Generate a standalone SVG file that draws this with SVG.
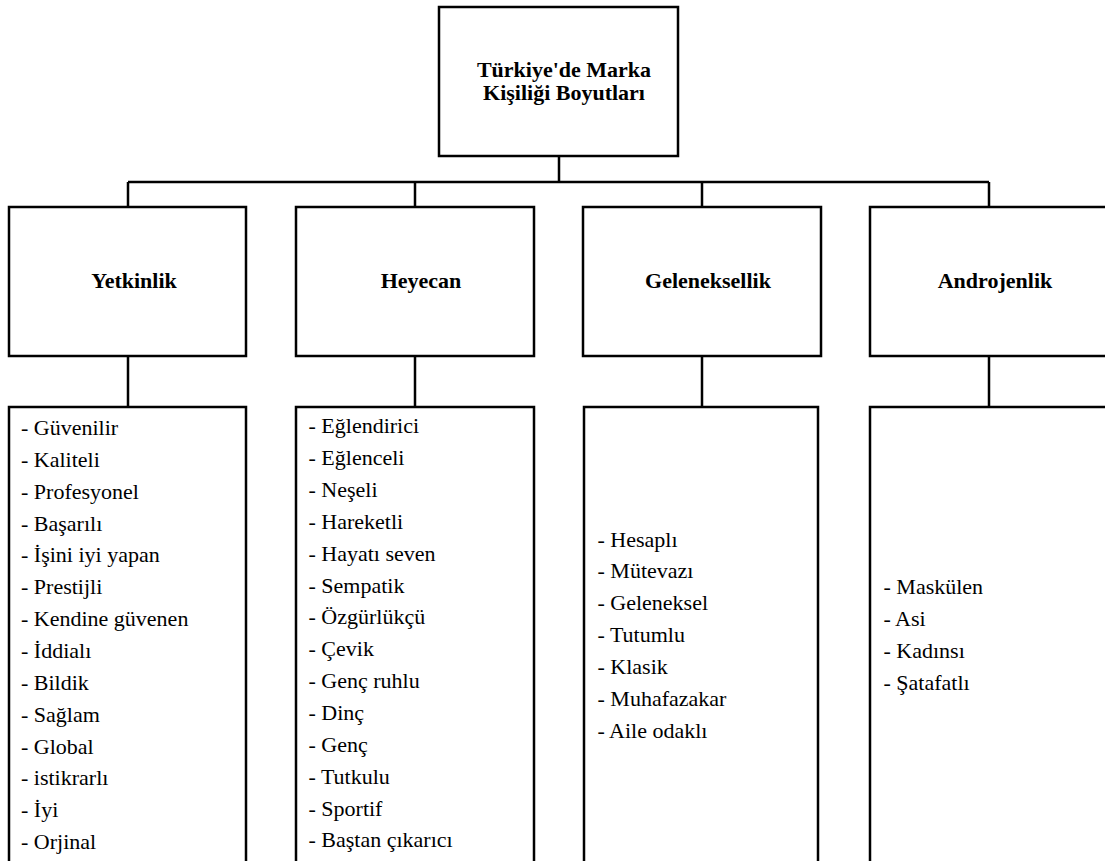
<svg xmlns="http://www.w3.org/2000/svg" width="1105" height="861" viewBox="0 0 1105 861">
<style>
.box{fill:#fff;stroke:#000;stroke-width:2.5}
.ln{fill:none;stroke:#000;stroke-width:2.5}
text{font-family:'Liberation Serif','Times New Roman',serif;fill:#000}
.hd{font-weight:bold;font-size:22px;text-anchor:middle}
.it{font-size:22px}
</style>
<rect width="1105" height="861" fill="#fff"/>
<g id="connectors">
<path class="ln" d="M559 156V182M128 182H989M128 182V207M415 182V207M702 182V207M989 182V207"/>
<path class="ln" d="M128 356V407M415 356V407M702 356V407M989 356V407"/>
</g>
<g id="root">
<rect class="box" x="439" y="7" width="239" height="149"/>
<text class="hd" x="564" y="77">Türkiye'de Marka</text>
<text class="hd" x="564" y="100">Kişiliği Boyutları</text>
</g>
<g id="yetkinlik">
<rect class="box" x="9" y="207" width="237" height="149"/>
<text class="hd" x="134" y="288">Yetkinlik</text>
</g>
<g id="heyecan">
<rect class="box" x="296" y="207" width="238" height="149"/>
<text class="hd" x="421" y="288">Heyecan</text>
</g>
<g id="geleneksellik">
<rect class="box" x="583" y="207" width="238" height="149"/>
<text class="hd" x="708" y="288">Geleneksellik</text>
</g>
<g id="androjenlik">
<rect class="box" x="870" y="207" width="240" height="149"/>
<text class="hd" x="995" y="288">Androjenlik</text>
</g>
<g id="yetkinlik-list">
<rect class="box" x="9" y="407" width="237" height="470"/>
<text class="it" x="21" y="435">- Güvenilir</text>
<text class="it" x="21" y="466.9">- Kaliteli</text>
<text class="it" x="21" y="498.7">- Profesyonel</text>
<text class="it" x="21" y="530.6">- Başarılı</text>
<text class="it" x="21" y="562.4">- İşini iyi yapan</text>
<text class="it" x="21" y="594.3">- Prestijli</text>
<text class="it" x="21" y="626.1">- Kendine güvenen</text>
<text class="it" x="21" y="658">- İddialı</text>
<text class="it" x="21" y="689.8">- Bildik</text>
<text class="it" x="21" y="721.7">- Sağlam</text>
<text class="it" x="21" y="753.5">- Global</text>
<text class="it" x="21" y="785.4">- istikrarlı</text>
<text class="it" x="21" y="817.2">- İyi</text>
<text class="it" x="21" y="849.1">- Orjinal</text>
</g>
<g id="heyecan-list">
<rect class="box" x="296" y="407" width="238" height="470"/>
<text class="it" x="308.5" y="433.3">- Eğlendirici</text>
<text class="it" x="308.5" y="465.2">- Eğlenceli</text>
<text class="it" x="308.5" y="497">- Neşeli</text>
<text class="it" x="308.5" y="528.9">- Hareketli</text>
<text class="it" x="308.5" y="560.7">- Hayatı seven</text>
<text class="it" x="308.5" y="592.6">- Sempatik</text>
<text class="it" x="308.5" y="624.4">- Özgürlükçü</text>
<text class="it" x="308.5" y="656.3">- Çevik</text>
<text class="it" x="308.5" y="688.1">- Genç ruhlu</text>
<text class="it" x="308.5" y="720">- Dinç</text>
<text class="it" x="308.5" y="751.8">- Genç</text>
<text class="it" x="308.5" y="783.7">- Tutkulu</text>
<text class="it" x="308.5" y="815.5">- Sportif</text>
<text class="it" x="308.5" y="847.4">- Baştan çıkarıcı</text>
</g>
<g id="geleneksellik-list">
<rect class="box" x="584" y="407" width="234" height="470"/>
<text class="it" x="597.5" y="546.5">- Hesaplı</text>
<text class="it" x="597.5" y="578.4">- Mütevazı</text>
<text class="it" x="597.5" y="610.2">- Geleneksel</text>
<text class="it" x="597.5" y="642.1">- Tutumlu</text>
<text class="it" x="597.5" y="673.9">- Klasik</text>
<text class="it" x="597.5" y="705.8">- Muhafazakar</text>
<text class="it" x="597.5" y="737.6">- Aile odaklı</text>
</g>
<g id="androjenlik-list">
<rect class="box" x="870" y="407" width="240" height="470"/>
<text class="it" x="883.5" y="594.3">- Maskülen</text>
<text class="it" x="883.5" y="626.1">- Asi</text>
<text class="it" x="883.5" y="658">- Kadınsı</text>
<text class="it" x="883.5" y="689.8">- Şatafatlı</text>
</g>
</svg>
